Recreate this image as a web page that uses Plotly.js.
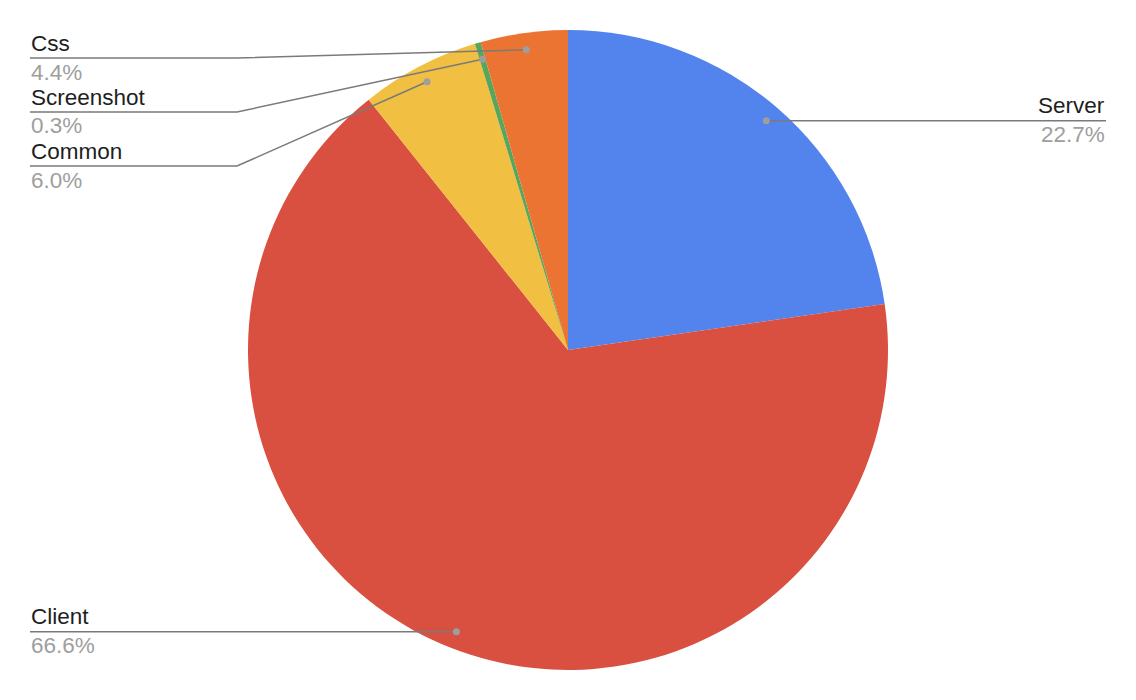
<!DOCTYPE html>
<html>
<head>
<meta charset="utf-8">
<script src="https://cdn.plot.ly/plotly-3.0.1.min.js"></script>
<style>html,body{margin:0;padding:0;background:#fff;}#chart{width:1136px;height:700px;}</style>
</head>
<body>
<div id="chart"></div>
<script>
const categories = ["Server", "Client", "Common", "Screenshot", "Css"];
const values = [22.7, 66.6, 6.0, 0.3, 4.4];
const colors = ["#5383EC", "#D95040", "#F1BF42", "#58A65C", "#EB7432"];

const W = 1136, H = 700;
const cx = 568, cy = 350, R = 320;
const dotR = 0.947 * R;
const leftText = 30, rightText = 1106, leftElbow = 237, rightElbow = W - 237;
const minGap = 54, topLimit = 58;
const fontSize = 22.5;

const total = values.reduce((a, b) => a + b, 0);
const px = x => x / W, py = y => 1 - y / H;

let cum = 0;
const items = values.map((v, i) => {
  const mid = (cum + v / 2) / total * 2 * Math.PI;
  cum += v;
  const dx = cx + dotR * Math.sin(mid), dy = cy - dotR * Math.cos(mid);
  return { i, dx, dy, side: dx < cx ? 'left' : 'right', pct: (v / total * 100).toFixed(1) + '%' };
});
['left', 'right'].forEach(side => {
  const list = items.filter(it => it.side === side).sort((a, b) => a.dy - b.dy);
  let prev = -Infinity;
  list.forEach(it => {
    let y = Math.max(it.dy, prev + minGap, topLimit);
    it.ly = y; prev = y;
  });
});

const shapes = [], annotations = [];
items.forEach(it => {
  const ex = it.side === 'left' ? leftElbow : rightElbow;
  const tx = it.side === 'left' ? leftText : rightText;
  let path;
  if (Math.abs(it.ly - it.dy) < 0.5) {
    path = `M ${px(it.dx)} ${py(it.dy)} L ${px(tx)} ${py(it.ly)}`;
  } else {
    path = `M ${px(it.dx)} ${py(it.dy)} L ${px(ex)} ${py(it.ly)} L ${px(tx)} ${py(it.ly)}`;
  }
  shapes.push({ type: 'path', xref: 'paper', yref: 'paper', path, line: { color: '#7a7a7a', width: 1.5 } });
  const r = 3.5;
  shapes.push({ type: 'circle', xref: 'paper', yref: 'paper',
    x0: px(it.dx - r), x1: px(it.dx + r), y0: py(it.dy + r), y1: py(it.dy - r),
    fillcolor: '#9e9e9e', line: { width: 0 } });
  const anchor = it.side === 'left' ? 'left' : 'right';
  annotations.push({ xref: 'paper', yref: 'paper', x: px(tx), y: py(it.ly - 1.5),
    text: categories[it.i], showarrow: false, xanchor: anchor, yanchor: 'bottom',
    font: { family: 'Liberation Sans, Arial, sans-serif', size: fontSize, color: '#1e1e1e' }, borderpad: 0 });
  annotations.push({ xref: 'paper', yref: 'paper', x: px(tx), y: py(it.ly + 0.5),
    text: it.pct, showarrow: false, xanchor: anchor, yanchor: 'top',
    font: { family: 'Liberation Sans, Arial, sans-serif', size: fontSize, color: '#9e9e9e' }, borderpad: 0 });
});

const trace = {
  type: 'pie', labels: categories, values: values, sort: false, direction: 'clockwise', rotation: 0,
  marker: { colors: colors, line: { width: 0 } }, textinfo: 'none', hoverinfo: 'label+percent',
  domain: { x: [(cx - R) / W, (cx + R) / W], y: [1 - (cy + R) / H, 1 - (cy - R) / H] }
};

Plotly.newPlot('chart', [trace], {
  width: W, height: H, margin: { l: 0, r: 0, t: 0, b: 0 }, showlegend: false,
  paper_bgcolor: '#ffffff', shapes, annotations
}, { displayModeBar: false, staticPlot: true });
</script>
</body>
</html>
